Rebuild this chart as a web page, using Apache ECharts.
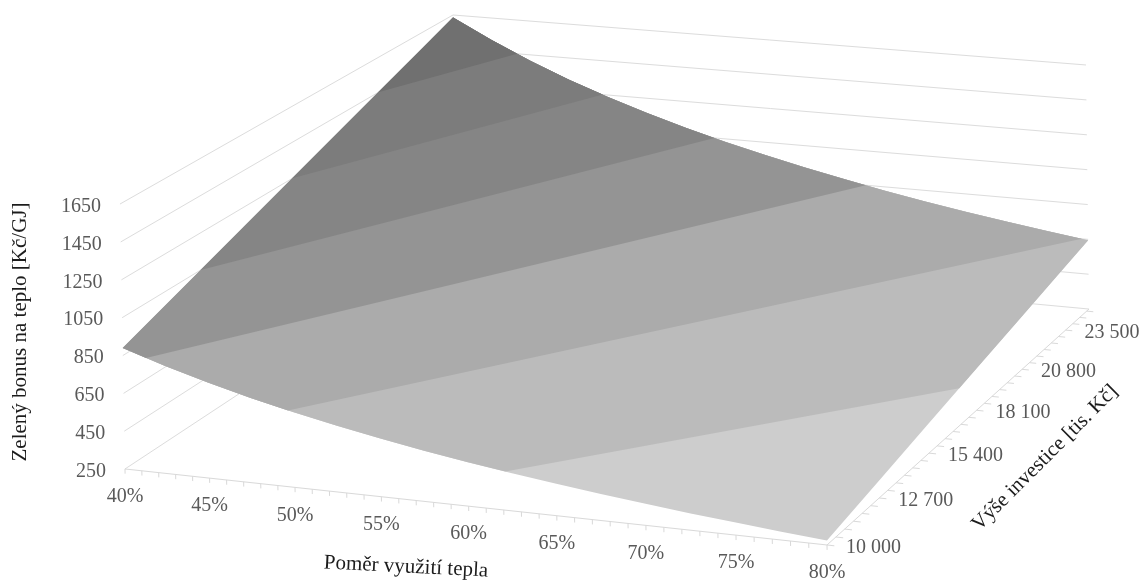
<!DOCTYPE html>
<html>
<head>
<meta charset="utf-8">
<style>html,body{margin:0;padding:0;background:#fff}#chart{width:1141px;height:583px}</style>
<script src="https://cdn.jsdelivr.net/npm/echarts@6/dist/echarts.min.js"></script>
</head>
<body>
<div id="chart"></div>
<script>
// Axis categories
const shareTicks = [40, 45, 50, 55, 60, 65, 70, 75, 80];
const usageShare = [40, 42.5, 45, 47.5, 50, 52.5, 55, 57.5, 60, 62.5, 65, 67.5, 70, 72.5, 75, 77.5, 80];
const investmentRows = [10000, 12700, 15400, 18100, 20800, 23500, 25000];
const investmentTicks = ['10 000', '12 700', '15 400', '18 100', '20 800', '23 500'];
const bonusTicks = [250, 450, 650, 850, 1050, 1250, 1450, 1650];

// Bonus [Kč/GJ] along each investment row, one value per usage share
const bonusAt10000 = [890, 817, 753, 695, 643, 596, 553, 514, 478, 445, 415, 387, 361, 336, 314, 292, 273];
const bonusAt12700 = [1024, 943, 872, 808, 750, 698, 651, 607, 568, 531, 497, 466, 437, 410, 385, 362, 340];
const bonusAt15400 = [1158, 1070, 991, 921, 858, 800, 748, 701, 657, 617, 580, 546, 514, 484, 457, 431, 407];
const bonusAt18100 = [1292, 1196, 1110, 1034, 965, 902, 846, 794, 746, 703, 663, 625, 591, 558, 528, 500, 474];
const bonusAt20800 = [1426, 1322, 1230, 1147, 1072, 1005, 943, 887, 836, 789, 745, 705, 667, 632, 600, 569, 541];
const bonusAt23500 = [1560, 1448, 1349, 1260, 1179, 1107, 1041, 981, 925, 875, 828, 784, 744, 706, 671, 639, 608];
const bonusAt25000 = [1635, 1519, 1415, 1322, 1239, 1164, 1095, 1032, 975, 922, 874, 828, 786, 747, 711, 677, 645];
const bonusRows = [bonusAt10000, bonusAt12700, bonusAt15400, bonusAt18100, bonusAt20800, bonusAt23500, bonusAt25000];

// Fill per 200 Kč/GJ band, lowest band first
const bandFills = ['#cdcdcd', '#bbbbbb', '#ababab', '#949494', '#858585', '#7c7c7c', '#707070'];

const PLANE = 500;
const investMin = 10000, investMax = 25000, investTickStep = 450;

// Where the corners of the plot box sit on the page: [share, depth, height] -> [x, y]
const boxCorners = [
  [[0, 0, 0], [125, 469]], [[1, 0, 0], [827, 545]], [[1, 1, 0], [1089, 309]],
  [[0, 0, 1], [120, 204]], [[1, 1, 1], [1086, 65]], [[0, 1, 1], [453, 15]]
];

// Perspective camera solved from the box corners by least squares
function solveCamera(pairs) {
  const n = 11, A = Array.from({length: n}, () => new Array(n + 1).fill(0));
  const addRow = (r, b) => {
    for (let i = 0; i < n; i++) {
      for (let j = 0; j < n; j++) A[i][j] += r[i] * r[j];
      A[i][n] += r[i] * b;
    }
  };
  pairs.forEach(([[X, Y, Z], [x, y]]) => {
    addRow([X, Y, Z, 1, 0, 0, 0, 0, -x * X, -x * Y, -x * Z], x);
    addRow([0, 0, 0, 0, X, Y, Z, 1, -y * X, -y * Y, -y * Z], y);
  });
  for (let c = 0; c < n; c++) {
    let p = c;
    for (let r = c + 1; r < n; r++) if (Math.abs(A[r][c]) > Math.abs(A[p][c])) p = r;
    [A[c], A[p]] = [A[p], A[c]];
    for (let r = 0; r < n; r++) {
      if (r === c) continue;
      const f = A[r][c] / A[c][c];
      for (let k = c; k <= n; k++) A[r][k] -= f * A[c][k];
    }
  }
  return A.map((row, i) => row[n] / row[i]);
}
const cam = solveCamera(boxCorners);

function project(u, v, w) {
  const d = cam[8] * u + cam[9] * v + cam[10] * w + 1;
  return [
    (cam[0] * u + cam[1] * v + cam[2] * w + cam[3]) / d,
    (cam[4] * u + cam[5] * v + cam[6] * w + cam[7]) / d
  ];
}

// The hidden grid turns share and bonus into unit coordinates
function toPage(api, share, invest, bonus) {
  const pt = api.coord([share, bonus]);
  return project(pt[0] / PLANE, (invest - investMin) / (investMax - investMin), 1 - pt[1] / PLANE);
}

// Outline of the surface, walked along its four edges
const lastRow = investmentRows.length - 1, lastCol = usageShare.length - 1;
const surfaceOutline = [];
for (let c = 0; c < lastCol; c++) surfaceOutline.push([usageShare[c], investmentRows[0], bonusRows[0][c]]);
for (let r = 0; r < lastRow; r++) surfaceOutline.push([usageShare[lastCol], investmentRows[r], bonusRows[r][lastCol]]);
for (let c = lastCol; c > 0; c--) surfaceOutline.push([usageShare[c], investmentRows[lastRow], bonusRows[lastRow][c]]);
for (let r = lastRow; r > 0; r--) surfaceOutline.push([usageShare[0], investmentRows[r], bonusRows[r][0]]);

// Keeps the part of the outline at or above a bonus level
function clipAbove(poly, limit) {
  const out = [];
  poly.forEach((a, i) => {
    const b = poly[(i + 1) % poly.length];
    const aIn = a[2] >= limit, bIn = b[2] >= limit;
    if (aIn) out.push(a);
    if (aIn !== bIn) {
      const t = (limit - a[2]) / (b[2] - a[2]);
      out.push([a[0] + t * (b[0] - a[0]), a[1] + t * (b[1] - a[1]), limit]);
    }
  });
  return out;
}

// Bands are painted from the lowest up, each one covering everything above its floor
function renderBand(params, api) {
  const b = api.value(0);
  const poly = clipAbove(surfaceOutline, bonusTicks[b]);
  if (poly.length < 3) return null;
  return {
    type: 'polygon',
    shape: {points: poly.map(p => toPage(api, p[0], p[1], p[2]))},
    style: {fill: bandFills[b]}
  };
}

function renderWall(params, api) {
  const z = api.value(0);
  const lines = [
    [toPage(api, 40, investMin, z), toPage(api, 40, investMax, z)],
    [toPage(api, 40, investMax, z), toPage(api, 80, investMax, z)]
  ];
  return {
    type: 'group',
    children: lines.map(([a, b]) => ({
      type: 'line',
      shape: {x1: a[0], y1: a[1], x2: b[0], y2: b[1]},
      style: {stroke: '#dcdcdc', lineWidth: 1}
    }))
  };
}

const tickStyle = {stroke: '#d9d9d9', lineWidth: 1};
const frontTicks = [];
for (let s = 40; s <= 80; s++) frontTicks.push(s);
const depthTicks = [];
for (let i = investMin; i <= investMax; i += investTickStep) depthTicks.push(i);

function renderFrontTick(params, api) {
  const s = api.value(0);
  const a = toPage(api, s, investMin, 250), b = toPage(api, s, investMin, 225);
  return {type: 'line', shape: {x1: a[0], y1: a[1], x2: b[0], y2: b[1]}, style: tickStyle};
}
function renderDepthTick(params, api) {
  const i = api.value(0);
  const a = toPage(api, 80, i, 250), b = toPage(api, 80.4, i, 250);
  return {type: 'line', shape: {x1: a[0], y1: a[1], x2: b[0], y2: b[1]}, style: tickStyle};
}
function renderAxisLines(params, api) {
  const a = toPage(api, 40, investMin, 250), b = toPage(api, 80, investMin, 250), c = toPage(api, 80, investMax, 250);
  return {
    type: 'polyline',
    shape: {points: [a, b, c]},
    style: {stroke: '#d9d9d9', lineWidth: 1, fill: 'none'}
  };
}

const tickFont = '20px "Liberation Serif", serif';
const tickColor = '#595959';
function textEl(text, x, y, align) {
  return {
    type: 'text', x, y,
    style: {text, fill: tickColor, font: tickFont, align, verticalAlign: 'middle'}
  };
}
function renderBonusLabel(params, api) {
  const z = api.value(0);
  const p = toPage(api, 40, investMin, z);
  return textEl(String(z), p[0] - 19, p[1] + 2.5, 'right');
}
function renderShareLabel(params, api) {
  const s = api.value(0);
  const p = toPage(api, s, investMin, 250);
  return textEl(s + '%', p[0], p[1] + 28, 'center');
}
function renderInvestLabel(params, api) {
  const k = params.dataIndex;
  const p = toPage(api, 80, investmentRows[k], 250);
  return textEl(investmentTicks[k], p[0] + 19, p[1] + 2.5, 'left');
}

const titleFont = '21px "Liberation Serif", serif';
const axisTitles = [
  {text: 'Zelený bonus na teplo [Kč/GJ]', x: 20, y: 332, rotation: Math.PI / 2},
  {text: 'Poměr využití tepla', x: 406, y: 567, rotation: -0.05},
  {text: 'Výše investice [tis. Kč]', x: 1045, y: 458, rotation: Math.PI / 4}
];
function renderTitle(params) {
  const t = axisTitles[params.dataIndex];
  return {
    type: 'text', x: t.x, y: t.y, rotation: t.rotation,
    style: {text: t.text, fill: '#1c1c1c', font: titleFont, align: 'center', verticalAlign: 'middle'}
  };
}

const layer = (name, renderItem, data, z) => ({
  type: 'custom', name, renderItem, data, z, clip: false, silent: true,
  coordinateSystem: 'cartesian2d', animation: false
});

const chart = echarts.init(document.getElementById('chart'), null, {renderer: 'canvas'});
chart.setOption({
  animation: false,
  backgroundColor: '#ffffff',
  grid: {left: 0, top: 0, width: PLANE, height: PLANE, show: false},
  xAxis: {type: 'value', min: 40, max: 80, show: false},
  yAxis: {type: 'value', min: 250, max: 1650, show: false},
  series: [
    layer('walls', renderWall, bonusTicks.map(z => [z]), 1),
    layer('axis lines', renderAxisLines, [[0]], 2),
    layer('share ticks', renderFrontTick, frontTicks.map(s => [s]), 2),
    layer('investment ticks', renderDepthTick, depthTicks.map(i => [i]), 2),
    layer('surface', renderBand, bandFills.map((f, b) => [b]), 3),
    layer('bonus labels', renderBonusLabel, bonusTicks.map(z => [z]), 4),
    layer('share labels', renderShareLabel, shareTicks.map(s => [s]), 4),
    layer('investment labels', renderInvestLabel, investmentTicks.map((t, i) => [i]), 4),
    layer('axis titles', renderTitle, axisTitles.map((t, i) => [i]), 4)
  ]
});
</script>
</body>
</html>
